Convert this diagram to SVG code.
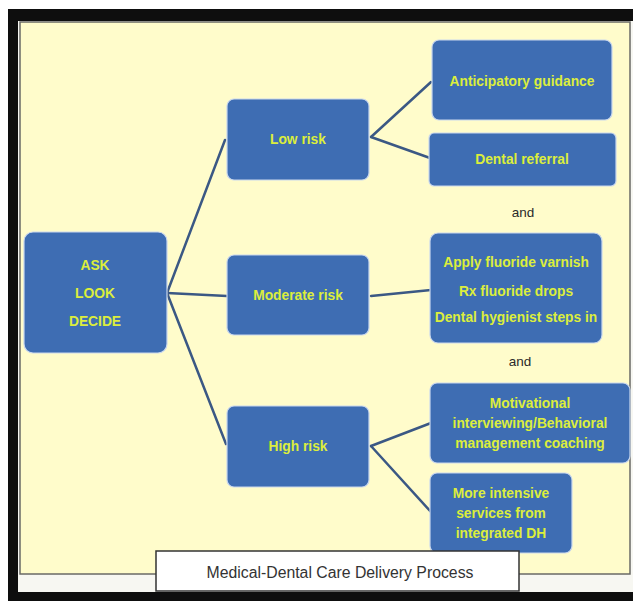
<svg xmlns="http://www.w3.org/2000/svg" width="633" height="601" viewBox="0 0 633 601">
<style>
.box{fill:#3e6db3;stroke:#c9d7ee;stroke-width:1.2}
.t{font-family:"Liberation Sans",Arial,sans-serif;font-weight:bold;font-size:13.8px;fill:#dcee3c;text-anchor:middle;dominant-baseline:central}
.and{font-family:"Liberation Sans",Arial,sans-serif;font-size:13.5px;fill:#2a2a2a;text-anchor:middle;dominant-baseline:central}
.cap{font-family:"Liberation Sans",Arial,sans-serif;font-size:15.8px;fill:#333;text-anchor:middle;dominant-baseline:central}
.ln{stroke:#3b5884;stroke-width:2.5;fill:none;stroke-linecap:round}
</style>
<rect x="0" y="0" width="633" height="601" fill="#ffffff"/>
<rect x="8" y="9" width="625" height="592" fill="#0e0e0e"/>
<rect x="18" y="21" width="615" height="571" fill="#f7f7f2"/>
<rect x="20" y="22" width="610" height="552" fill="#fffccb" stroke="#6a6a66" stroke-width="1.5"/>
<g id="connectors">
<line class="ln" x1="167" y1="293" x2="225" y2="140"/>
<line class="ln" x1="167" y1="293" x2="227" y2="296"/>
<line class="ln" x1="167" y1="293" x2="226" y2="444"/>
<line class="ln" x1="371" y1="137" x2="431" y2="82"/>
<line class="ln" x1="371" y1="137" x2="430" y2="158"/>
<line class="ln" x1="371" y1="296" x2="431" y2="290"/>
<line class="ln" x1="371" y1="446" x2="431" y2="423"/>
<line class="ln" x1="371" y1="446" x2="431" y2="512"/>
</g>
<g id="ask">
<rect class="box" x="24" y="232" width="143" height="121" rx="9"/>
<text class="t" x="95" y="265">ASK</text>
<text class="t" x="95" y="293">LOOK</text>
<text class="t" x="95" y="321">DECIDE</text>
</g>
<g id="low">
<rect class="box" x="227" y="99" width="142" height="81" rx="7"/>
<text class="t" x="298" y="139">Low risk</text>
</g>
<g id="moderate">
<rect class="box" x="227" y="255" width="142" height="80" rx="7"/>
<text class="t" x="298" y="295">Moderate risk</text>
</g>
<g id="high">
<rect class="box" x="227" y="406" width="142" height="81" rx="7"/>
<text class="t" x="298" y="446">High risk</text>
</g>
<g id="anticipatory">
<rect class="box" x="432" y="40" width="180" height="80" rx="7"/>
<text class="t" x="522" y="81">Anticipatory guidance</text>
</g>
<g id="referral">
<rect class="box" x="429" y="133" width="187" height="53" rx="5"/>
<text class="t" x="522" y="159">Dental referral</text>
</g>
<text class="and" x="523" y="212">and</text>
<g id="fluoride">
<rect class="box" x="430" y="233" width="172" height="110" rx="8"/>
<text class="t" x="516" y="262">Apply fluoride varnish</text>
<text class="t" x="516" y="291">Rx fluoride drops</text>
<text class="t" x="516" y="317">Dental hygienist steps in</text>
</g>
<text class="and" x="520" y="361">and</text>
<g id="motivational">
<rect class="box" x="430" y="383" width="200" height="80" rx="7"/>
<text class="t" x="530" y="403">Motivational</text>
<text class="t" x="530" y="423">interviewing/Behavioral</text>
<text class="t" x="530" y="443">management coaching</text>
</g>
<g id="intensive">
<rect class="box" x="430" y="473" width="142" height="80" rx="7"/>
<text class="t" x="501" y="493">More intensive</text>
<text class="t" x="501" y="513">services from</text>
<text class="t" x="501" y="533">integrated DH</text>
</g>
<g id="caption">
<rect x="156" y="551" width="363" height="40" fill="#ffffff" stroke="#333" stroke-width="1.5"/>
<text class="cap" x="340" y="572">Medical-Dental Care Delivery Process</text>
</g>
</svg>
